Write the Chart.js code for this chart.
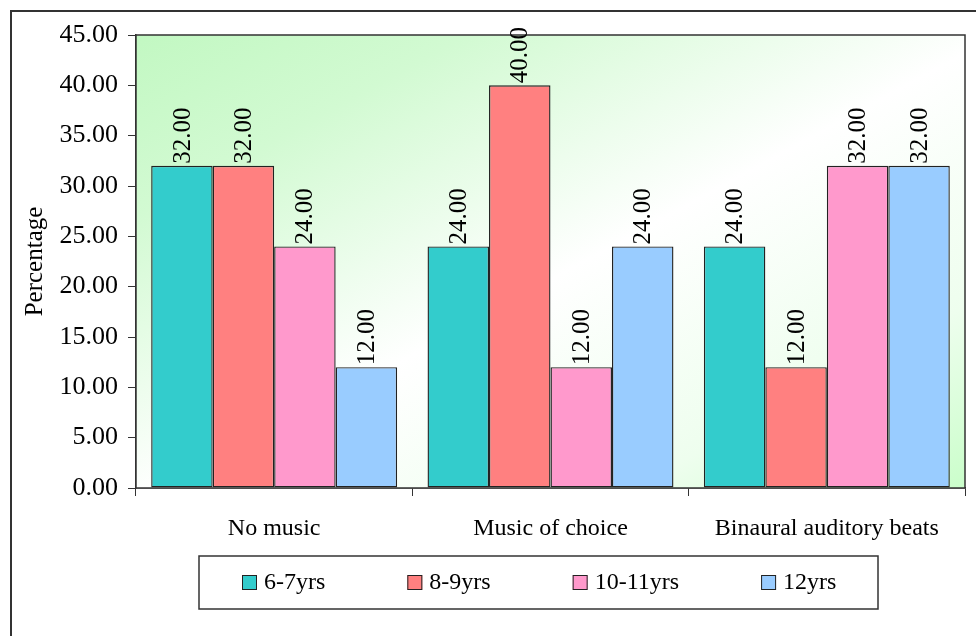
<!DOCTYPE html>
<html>
<head>
<meta charset="utf-8">
<script src="https://cdn.jsdelivr.net/npm/chart.js@4/dist/chart.umd.min.js"></script>
<style>
  html, body { margin: 0; padding: 0; background: #fff; }
  #wrap { width: 976px; height: 636px; position: relative; }
</style>
</head>
<body>
<div id="wrap"><canvas id="c" width="976" height="636"></canvas></div>
<script>
// Share of children (%) per listening condition, by age group
const categories = ['No music', 'Music of choice', 'Binaural auditory beats'];
const seriesNames = ['6-7yrs', '8-9yrs', '10-11yrs', '12yrs'];
const age6to7   = [32.00, 24.00, 24.00];
const age8to9   = [32.00, 40.00, 12.00];
const age10to11 = [24.00, 12.00, 32.00];
const age12     = [12.00, 24.00, 32.00];
const seriesValues = [age6to7, age8to9, age10to11, age12];
const seriesColors = ['#33CCCC', '#FF8080', '#FF99CC', '#99CCFF'];
const yMax = 45, yStep = 5;

const SERIF = "'Liberation Serif', 'Times New Roman', serif";

// outer frame of the figure
const framePlugin = {
  id: 'frame',
  beforeDraw(chart) {
    const ctx = chart.ctx;
    ctx.save();
    ctx.fillStyle = '#fff';
    ctx.fillRect(0, 0, chart.width, chart.height);
    ctx.strokeStyle = '#333';
    ctx.lineWidth = 2;
    ctx.beginPath();
    ctx.moveTo(11, chart.height + 2);
    ctx.lineTo(11, 11);
    ctx.lineTo(chart.width + 2, 11);
    ctx.stroke();
    ctx.restore();
  }
};

// diagonal green-white-green fill behind the bars, plus plot border
const plotAreaPlugin = {
  id: 'plotArea',
  beforeDatasetsDraw(chart) {
    const { ctx, chartArea: a } = chart;
    ctx.save();
    ctx.translate(a.left, a.top);
    ctx.scale(a.right - a.left, a.bottom - a.top);
    const g = ctx.createLinearGradient(0, 0, 1, 1);
    g.addColorStop(0, '#C2F8C2');
    g.addColorStop(0.2, '#D2FAD2');
    g.addColorStop(0.52, '#FFFFFF');
    g.addColorStop(0.8, '#EEFEEE');
    g.addColorStop(1, '#CAFECA');
    ctx.fillStyle = g;
    ctx.fillRect(0, 0, 1, 1);
    ctx.restore();
  },
  afterDatasetsDraw(chart) {
    const { ctx, chartArea: a } = chart;
    ctx.save();
    ctx.strokeStyle = '#333';
    ctx.lineWidth = 1.5;
    ctx.strokeRect(a.left, a.top, a.right - a.left, a.bottom - a.top);
    ctx.restore();
  }
};

// rotated value labels above each bar
const valueLabelPlugin = {
  id: 'valueLabels',
  afterDatasetsDraw(chart) {
    const ctx = chart.ctx;
    ctx.save();
    ctx.font = '25px ' + SERIF;
    ctx.fillStyle = '#000';
    ctx.textAlign = 'left';
    ctx.textBaseline = 'middle';
    chart.data.datasets.forEach((ds, di) => {
      const meta = chart.getDatasetMeta(di);
      meta.data.forEach((bar, i) => {
        ctx.save();
        ctx.translate(bar.x + 1, bar.y - 2);
        ctx.rotate(-Math.PI / 2);
        ctx.fillText(Number(ds.data[i]).toFixed(2), 0, 0);
        ctx.restore();
      });
    });
    ctx.restore();
  }
};

// boxed legend below the category labels
const boxLegendPlugin = {
  id: 'boxLegend',
  afterDraw(chart) {
    const ctx = chart.ctx;
    const box = { x: 199, y: 556, w: 679, h: 53 };
    ctx.save();
    ctx.strokeStyle = '#333';
    ctx.lineWidth = 1.5;
    ctx.strokeRect(box.x, box.y, box.w, box.h);
    ctx.font = '24px ' + SERIF;
    ctx.textBaseline = 'middle';
    ctx.textAlign = 'left';
    let x = box.x + 43;
    const cy = box.y + 27;
    chart.data.datasets.forEach(ds => {
      ctx.fillStyle = ds.backgroundColor;
      ctx.fillRect(x, cy - 8, 15, 15);
      ctx.strokeStyle = '#222';
      ctx.lineWidth = 1;
      ctx.strokeRect(x + 0.5, cy - 7.5, 14, 14);
      ctx.fillStyle = '#000';
      ctx.fillText(ds.label, x + 22, cy);
      x += 22 + ctx.measureText(ds.label).width + 82;
    });
    ctx.restore();
  }
};

const datasets = seriesNames.map((name, i) => ({
  label: name,
  data: seriesValues[i],
  backgroundColor: seriesColors[i],
  borderColor: '#222',
  borderWidth: 1.4,
  borderSkipped: false,
  categoryPercentage: 0.89,
  barPercentage: 1.0
}));

new Chart(document.getElementById('c'), {
  type: 'bar',
  data: { labels: categories, datasets },
  plugins: [framePlugin, plotAreaPlugin, valueLabelPlugin, boxLegendPlugin],
  options: {
    responsive: false,
    animation: false,
    events: [],
    layout: { padding: { left: 0, top: 35, right: 11, bottom: 0 } },
    plugins: { legend: { display: false }, tooltip: { enabled: false } },
    scales: {
      x: {
        grid: { offset: true, drawOnChartArea: false, drawTicks: true, tickLength: 8, color: '#333', lineWidth: 1 },
        border: { display: true, color: '#333', width: 1.5 },
        ticks: { font: { family: SERIF, size: 24 }, color: '#000', padding: 18, maxRotation: 0, autoSkip: false },
        afterFit(scale) { scale.height = 636 - 488; }
      },
      y: {
        min: 0,
        max: yMax,
        grid: { drawOnChartArea: false, drawTicks: true, tickLength: 8, color: '#333', lineWidth: 1 },
        border: { display: true, color: '#333', width: 1.5 },
        ticks: {
          stepSize: yStep,
          font: { family: SERIF, size: 26 },
          color: '#000',
          padding: 10,
          callback: v => Number(v).toFixed(2)
        },
        title: {
          display: true,
          text: 'Percentage',
          font: { family: SERIF, size: 25 },
          color: '#000',
          padding: { top: 20, bottom: 0 }
        },
        afterFit(scale) { scale.width = 136; }
      }
    }
  }
});
</script>
</body>
</html>
